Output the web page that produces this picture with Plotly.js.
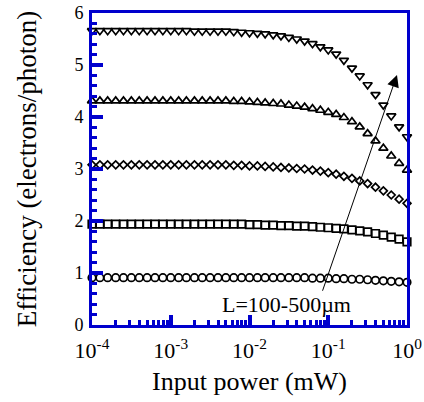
<!DOCTYPE html>
<html>
<head>
<meta charset="utf-8">
<script src="https://cdn.plot.ly/plotly-3.0.1.min.js"></script>
<style>
html,body{margin:0;padding:0;background:#fff;}
#chart{width:424px;height:402px;}
</style>
</head>
<body>
<div id="chart"></div>
<script>
// Input power (mW), 10 points per decade
var power = [
  1.00e-4, 1.26e-4, 1.58e-4, 2.00e-4, 2.51e-4, 3.16e-4, 3.98e-4, 5.01e-4, 6.31e-4, 7.94e-4,
  1.00e-3, 1.26e-3, 1.58e-3, 2.00e-3, 2.51e-3, 3.16e-3, 3.98e-3, 5.01e-3, 6.31e-3, 7.94e-3,
  1.00e-2, 1.26e-2, 1.58e-2, 2.00e-2, 2.51e-2, 3.16e-2, 3.98e-2, 5.01e-2, 6.31e-2, 7.94e-2,
  1.00e-1, 1.26e-1, 1.58e-1, 2.00e-1, 2.51e-1, 3.16e-1, 3.98e-1, 5.01e-1, 6.31e-1, 7.94e-1,
  1.00
];
// Efficiency (electrons/photon) for L = 100 ... 500 um
var effL100 = [
  0.91,0.91,0.91,0.91,0.91,0.91,0.91,0.91,0.91,0.91,
  0.91,0.91,0.91,0.91,0.91,0.91,0.91,0.91,0.91,0.91,
  0.91,0.91,0.91,0.91,0.91,0.91,0.91,0.91,0.90,0.90,
  0.90,0.89,0.89,0.88,0.88,0.87,0.86,0.85,0.84,0.83,
  0.82
];
var effL200 = [
  1.94,1.94,1.94,1.94,1.94,1.94,1.94,1.94,1.94,1.94,
  1.94,1.94,1.94,1.94,1.94,1.94,1.94,1.94,1.94,1.94,
  1.93,1.93,1.92,1.92,1.91,1.91,1.90,1.90,1.89,1.88,
  1.87,1.86,1.85,1.83,1.81,1.79,1.76,1.73,1.69,1.65,
  1.60
];
var effL300 = [
  3.08,3.08,3.08,3.08,3.08,3.08,3.08,3.08,3.08,3.08,
  3.08,3.08,3.08,3.08,3.08,3.08,3.08,3.08,3.07,3.07,
  3.06,3.06,3.05,3.04,3.03,3.02,3.01,3.00,2.98,2.96,
  2.93,2.90,2.86,2.82,2.77,2.72,2.65,2.58,2.50,2.42,
  2.34
];
var effL400 = [
  4.31,4.31,4.31,4.31,4.31,4.31,4.31,4.31,4.31,4.31,
  4.31,4.31,4.31,4.31,4.31,4.31,4.31,4.31,4.30,4.30,
  4.29,4.28,4.27,4.26,4.25,4.23,4.21,4.19,4.16,4.13,
  4.09,4.05,3.99,3.91,3.81,3.68,3.54,3.40,3.25,3.11,
  2.98
];
var effL500 = [
  5.66,5.66,5.66,5.66,5.66,5.66,5.66,5.66,5.66,5.66,
  5.66,5.66,5.66,5.65,5.65,5.65,5.65,5.65,5.64,5.63,
  5.62,5.61,5.60,5.58,5.56,5.53,5.50,5.46,5.41,5.35,
  5.29,5.21,5.09,4.94,4.79,4.62,4.43,4.23,4.02,3.81,
  3.62
];
var xTickVals = [1e-4, 1e-3, 1e-2, 1e-1, 1];
var xTickText = ['10<sup>-4</sup>','10<sup>-3</sup>','10<sup>-2</sup>','10<sup>-1</sup>','10<sup>0</sup>'];
var yTickVals = [0,1,2,3,4,5,6];
var yTickText = ['0','1','2','3','4','5','6'];
var labelText = 'L=100-500\u00b5m';

var FONT = '"Liberation Serif", "Times New Roman", serif';
var BLUE = 'rgb(0,0,205)';

function series(y, symbol, size) {
  return {
    x: power, y: y, type: 'scatter', mode: 'markers', cliponaxis: false,
    marker: {symbol: symbol, size: size, color: 'black', line: {color: 'black', width: 1.7}}
  };
}
var data = [
  series(effL100, 'circle-open', 7.5),
  series(effL200, 'square-open', 7.5),
  series(effL300, 'diamond-open', 6),
  series(effL400, 'triangle-up-open', 8),
  series(effL500, 'triangle-down-open', 8)
];

var layout = {
  width: 424, height: 402,
  margin: {l: 92, r: 17, t: 13, b: 77},
  paper_bgcolor: 'white', plot_bgcolor: 'white',
  showlegend: false,
  font: {family: FONT, color: 'black', size: 18},
  xaxis: {
    type: 'log', range: [-4, 0],
    tickvals: xTickVals, ticktext: xTickText,
    ticks: 'inside', ticklen: 10, tickwidth: 4, tickcolor: BLUE,
    showline: true, linecolor: BLUE, linewidth: 3, mirror: true,
    showgrid: false, zeroline: false,
    tickfont: {family: FONT, size: 22, color: 'black'},
    ticklabelstandoff: 4,
    minor: {ticks: 'inside', ticklen: 5, tickwidth: 3, tickcolor: BLUE, dtick: 'D1', showgrid: false},
    title: {text: 'Input power (mW)', font: {family: FONT, size: 26, color: 'black'}, standoff: 10}
  },
  yaxis: {
    range: [0, 6],
    tickvals: yTickVals, ticktext: yTickText,
    ticks: 'inside', ticklen: 11, tickwidth: 4, tickcolor: BLUE,
    showline: true, linecolor: BLUE, linewidth: 3, mirror: true,
    showgrid: false, zeroline: false,
    tickfont: {family: FONT, size: 18, color: 'black'},
    ticklabelstandoff: 2,
    minor: {ticks: 'inside', ticklen: 5, tickwidth: 3, tickcolor: BLUE, dtick: 0.2, showgrid: false},
    title: {text: 'Efficiency (electrons/photon)', font: {family: FONT, size: 27, color: 'black'}, standoff: 30}
  },
  annotations: [
    {
      xref: 'x', yref: 'y', axref: 'x', ayref: 'y',
      x: -0.127, y: 4.81, ax: -1.079, ay: 0.63,
      text: '', showarrow: true, arrowhead: 2, arrowsize: 2.4, arrowwidth: 1, arrowcolor: 'black'
    },
    {
      xref: 'x', yref: 'y', x: -1.536, y: 0.385,
      text: labelText, showarrow: false,
      font: {family: FONT, size: 22, color: 'black'}
    }
  ]
};

Plotly.newPlot('chart', data, layout, {displayModeBar: false, staticPlot: true});
</script>
</body>
</html>
